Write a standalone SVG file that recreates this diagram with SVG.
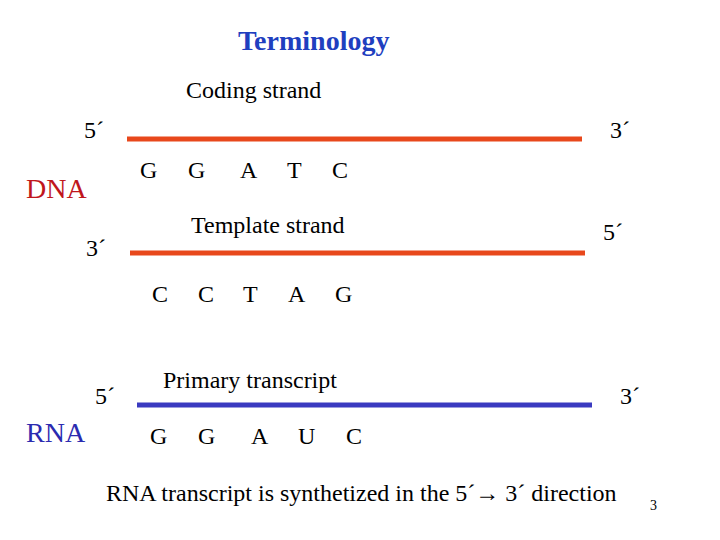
<svg xmlns="http://www.w3.org/2000/svg" width="720" height="540" viewBox="0 0 720 540">
<style>
text{font-family:"Liberation Serif",serif;font-size:24px;fill:#000}
.t{fill:#1f3fbf;font-weight:bold;font-size:28px}
.lbl{font-size:28px}
.r{stroke:#e8481c;stroke-width:5}
.b{stroke:#3a3ac0;stroke-width:5}
</style>
<rect width="720" height="540" fill="#fff"/>
<text class="t" x="238" y="50">Terminology</text>
<text class="lbl" x="26" y="198" style="fill:#c0161c">DNA</text>
<text class="lbl" x="26" y="442" style="fill:#2b2bb0">RNA</text>
<g id="coding">
<text x="186" y="98">Coding strand</text>
<text x="84" y="138">5´</text>
<text x="610" y="138">3´</text>
<line class="r" x1="127" y1="139" x2="582" y2="139"/>
<text x="140" y="178">G</text><text x="188" y="178">G</text><text x="240" y="178">A</text><text x="287" y="178">T</text><text x="332" y="178">C</text>
</g>
<g id="template">
<text x="191" y="233">Template strand</text>
<text x="86" y="256">3´</text>
<text x="603" y="240">5´</text>
<line class="r" x1="130" y1="253" x2="585" y2="253"/>
<text x="152" y="302">C</text><text x="198" y="302">C</text><text x="243" y="302">T</text><text x="288" y="302">A</text><text x="335" y="302">G</text>
</g>
<g id="rna">
<text x="163" y="388">Primary transcript</text>
<text x="95" y="404">5´</text>
<text x="620" y="404">3´</text>
<line class="b" x1="137" y1="405" x2="592" y2="405"/>
<text x="150" y="444">G</text><text x="198" y="444">G</text><text x="251" y="444">A</text><text x="298" y="444">U</text><text x="346" y="444">C</text>
</g>
<text x="106" y="501">RNA transcript is synthetized in the 5´→ 3´ direction</text>
<text x="650" y="510" style="font-size:14px">3</text>
</svg>
